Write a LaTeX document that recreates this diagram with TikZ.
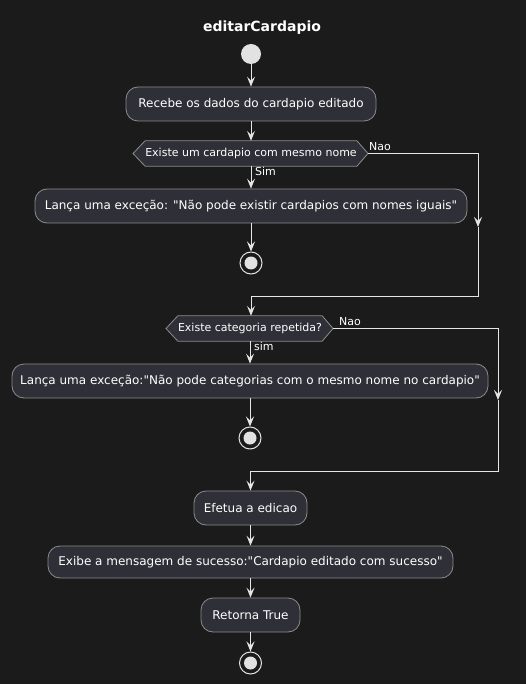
\documentclass[tikz,border=0pt]{standalone}
\usepackage{fontspec}
\setmainfont{DejaVu Sans}[Ligatures=TeXOff]
\usetikzlibrary{arrows.meta,backgrounds}
\definecolor{bg}{HTML}{1B1B1C}
\definecolor{boxfill}{HTML}{2F2F38}
\definecolor{boxline}{HTML}{8C8C8C}
\definecolor{arrc}{HTML}{E6E6E6}
\definecolor{dotc}{HTML}{E2E2E2}
\begin{document}
\begin{tikzpicture}[x=1pt,y=-1pt,
  act/.style={draw=boxline, fill=boxfill, line width=0.8pt, rounded corners=12pt, minimum height=34pt, text=white, font=\fontsize{12}{14}\selectfont, inner sep=0pt},
  hexlab/.style={inner sep=0pt, minimum height=25pt, text=white, font=\fontsize{11}{13}\selectfont},
  hexbox/.style={draw=boxline, fill=boxfill, line width=0.8pt},
  lab/.style={text=white, font=\fontsize{11}{13}\selectfont, inner sep=0pt},
  arr/.style={draw=arrc, line width=1pt, -{Stealth[length=10pt,width=8pt,inset=4pt]}},
  ln/.style={draw=arrc, line width=1pt},
  startdot/.style={circle, fill=dotc, minimum size=20pt, inner sep=0pt},
  stopring/.style={circle, draw=dotc, line width=1pt, minimum size=22pt, inner sep=0pt},
  stopdot/.style={circle, fill=dotc, minimum size=13pt, inner sep=0pt}
]
\begin{pgfonlayer}{background}
\fill[bg] (0,0) rectangle (526,684);
\end{pgfonlayer}
\useasboundingbox (0,0) rectangle (526,684);

\node[text=white, font=\bfseries\fontsize{14}{16}\selectfont] (title) at (262,28) {editarCardapio};

\node[startdot] (start) at (251,54) {};

\node[act, minimum width=250pt] (b1) at (251,104) {Recebe os dados do cardapio editado};

% diamond 1
\node[hexlab, minimum width=211pt] (d1) at (251,153.5) {Existe um cardapio com mesmo nome};
\coordinate (d1w) at (133,153.5);
\coordinate (d1e) at (368,153.5);
\begin{pgfonlayer}{background}
\path[hexbox] (d1.north west) -- (d1.north east) -- (d1e) -- (d1.south east) -- (d1.south west) -- (d1w) -- cycle;
\end{pgfonlayer}

\node[act, minimum width=432pt] (b2) at (251,206) {Lança uma exceção: "Não pode existir cardapios com nomes iguais"};

\node[stopring] (s1) at (251,263) {};
\node[stopdot] (s1d) at (251,263) {};

% diamond 2
\node[hexlab, minimum width=143pt] (d2) at (250,328.5) {Existe categoria repetida?};
\coordinate (d2w) at (166,328.5);
\coordinate (d2e) at (333,328.5);
\begin{pgfonlayer}{background}
\path[hexbox] (d2.north west) -- (d2.north east) -- (d2e) -- (d2.south east) -- (d2.south west) -- (d2w) -- cycle;
\end{pgfonlayer}

\node[act, minimum width=476pt] (b3) at (250,381) {Lança uma exceção:"Não pode categorias com o mesmo nome no cardapio"};

\node[stopring] (s2) at (250,438) {};
\node[stopdot] (s2d) at (250,438) {};

\node[act, minimum width=113pt] (b4) at (250.5,508) {Efetua a edicao};
\node[act, minimum width=405pt, minimum height=32pt] (b5) at (250.5,562) {Exibe a mensagem de sucesso:"Cardapio editado com sucesso"};
\node[act, minimum width=99pt] (b6) at (250.5,615) {Retorna True};

\node[stopring] (s3) at (250.5,663) {};
\node[stopdot] (s3d) at (250.5,663) {};

% connectors
\draw[arr] (start) -- (b1);
\draw[arr] (b1) -- (d1);
\draw[arr] (d1) -- (b2);
\draw[arr] (b2) -- (s1);

\coordinate (c1a) at (478,153.5);
\coordinate (c1b) at (478,227);
\coordinate (c1c) at (478,296);
\coordinate (c1d) at (251,296);
\draw[arr] (d1e) -- (c1a) -- (c1b);
\draw[ln] (c1b) -- (c1c) -- (c1d);
\draw[arr] (c1d) -- (d2.north -| c1d);

\draw[arr] (d2) -- (b3);
\draw[arr] (b3) -- (s2);

\coordinate (c2a) at (498,328.5);
\coordinate (c2b) at (498,400);
\coordinate (c2c) at (498,471);
\coordinate (c2d) at (250.5,471);
\draw[arr] (d2e) -- (c2a) -- (c2b);
\draw[ln] (c2b) -- (c2c) -- (c2d);
\draw[arr] (c2d) -- (b4);

\draw[arr] (b4) -- (b5);
\draw[arr] (b5) -- (b6);
\draw[arr] (b6) -- (s3);

% labels
\node[lab, anchor=west] (l1) at (369,147) {Nao};
\node[lab, anchor=west] (l2) at (255,171) {Sim};
\node[lab, anchor=west] (l3) at (339,322) {Nao};
\node[lab, anchor=west] (l4) at (254,346) {sim};
\end{tikzpicture}
\end{document}
